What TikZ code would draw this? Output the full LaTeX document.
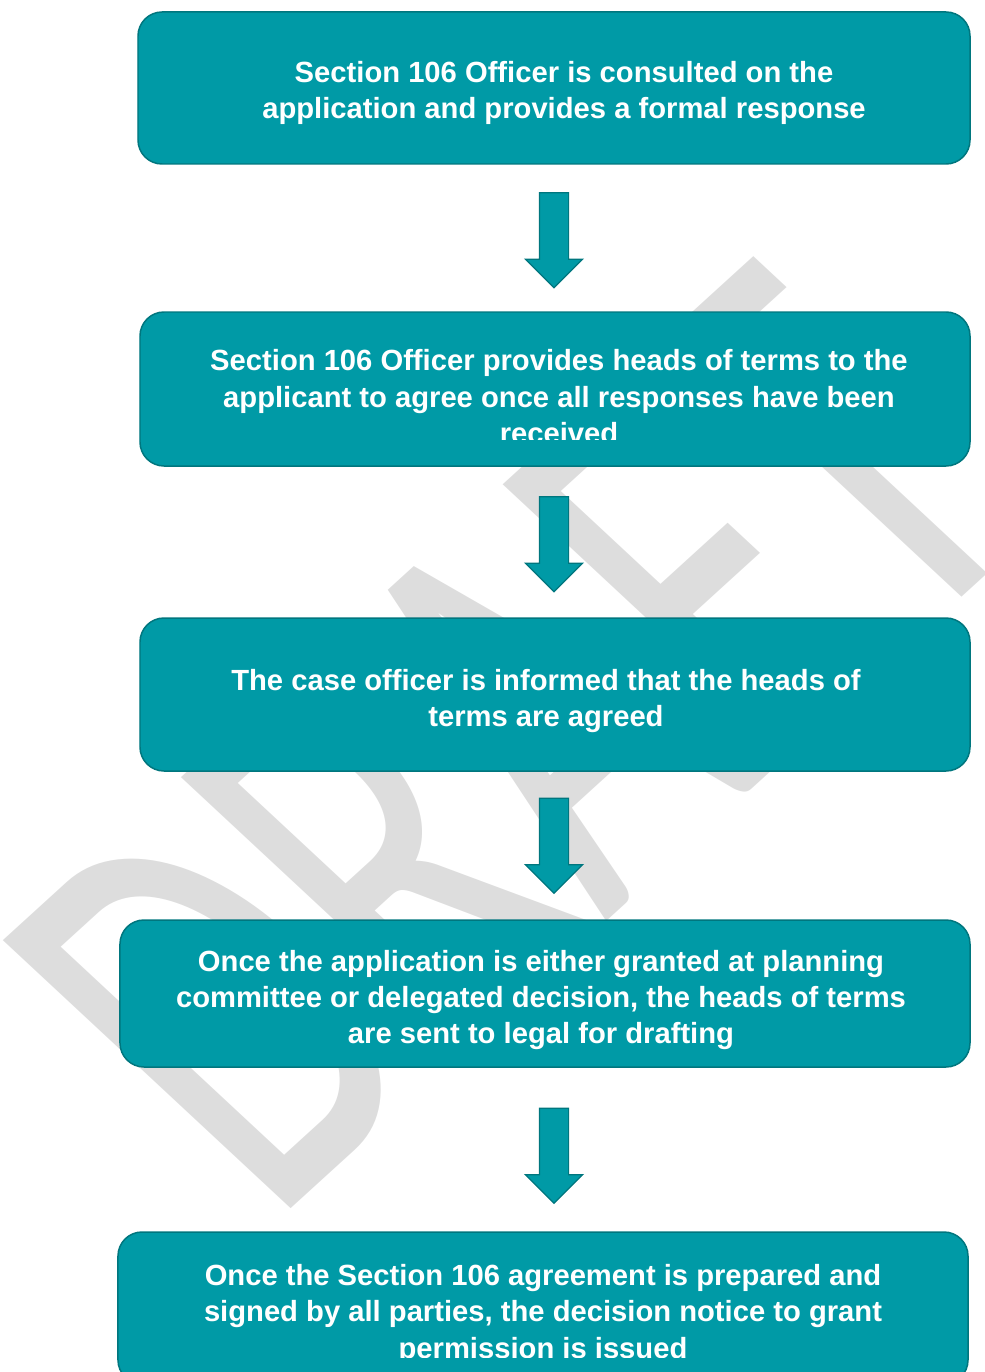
\documentclass[tikz,border=0pt]{standalone}
\usepackage{fontspec}
\setmainfont{Liberation Sans}
\newfontfamily\wmfont{Carlito}
\usetikzlibrary{shapes.arrows}

\definecolor{boxteal}{HTML}{009AA6}
\definecolor{boxedge}{HTML}{00767E}
\definecolor{wmgray}{HTML}{DDDDDD}

\begin{document}
\begin{tikzpicture}[x=1bp, y=-1bp,
  stepbox/.style={draw=boxedge, line width=1.5pt, fill=boxteal, rounded corners=24bp, inner sep=0pt},
  boxtext/.style={align=center, text=white, inner sep=0pt, font=\bfseries\fontsize{29.3}{36.6}\selectfont},
  downarrow/.style={single arrow, shape border rotate=270, draw=boxedge, line width=1.2pt, fill=boxteal, inner sep=14bp, minimum height=95bp, single arrow head extend=14bp}]

\useasboundingbox (0, 0) rectangle (984, 1372);

% watermark behind everything
\node (watermark) [text=wmgray, inner sep=0pt, anchor=base, font=\wmfont\fontsize{100}{100}\selectfont, cm={2.894,2.636,-4.503,4.193,(0,0)}] at (658, 874) {DRAFT};

\node (consulted) [stepbox, minimum width=832bp, minimum height=152bp] at (554, 88) {};
\node (heads) [stepbox, minimum width=830bp, minimum height=154bp] at (555, 389) {};
\node (agreed) [stepbox, minimum width=830bp, minimum height=153bp] at (555, 694.5) {};
\node (legal) [stepbox, minimum width=850bp, minimum height=147bp] at (545, 993.5) {};
\node (issued) [stepbox, minimum width=850bp, minimum height=152bp] at (543, 1308) {};

\node (consultedtext) [boxtext] at (564, 93) {Section 106 Officer is consulted on the\\application and provides a formal response};
\begin{scope}
\clip (heads.north west) rectangle ([yshift=27bp]heads.south east);
\node (headstext) [boxtext] at (559, 397) {Section 106 Officer provides heads of terms to the\\applicant to agree once all responses have been\\received};
\end{scope}
\node (agreedtext) [boxtext] at (546, 701) {The case officer is informed that the heads of\\terms are agreed};
\node (legaltext) [boxtext] at (541, 1000) {Once the application is either granted at planning\\committee or delegated decision, the heads of terms\\are sent to legal for drafting};
\begin{scope}
\clip (issued.north west) rectangle ([yshift=27bp]issued.south east);
\node (issuedtext) [boxtext] at (543, 1314) {Once the Section 106 agreement is prepared and\\signed by all parties, the decision notice to grant\\permission is issued};
\end{scope}

\node (arrowA) [downarrow] at (554, 233) {};
\node (arrowB) [downarrow] at (554, 537) {};
\node (arrowC) [downarrow] at (554, 838.5) {};
\node (arrowD) [downarrow] at (554, 1148.5) {};

\end{tikzpicture}
\end{document}
